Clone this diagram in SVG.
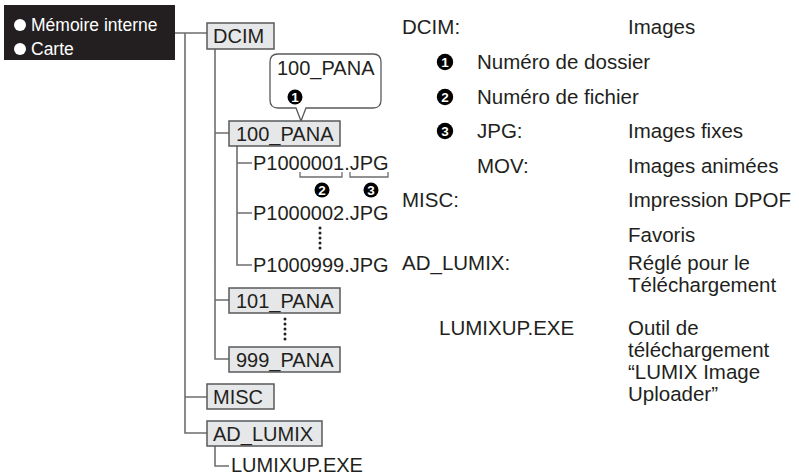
<svg xmlns="http://www.w3.org/2000/svg" width="799" height="475" viewBox="0 0 799 475">
<style>
text{font-family:"Liberation Sans",Arial,sans-serif;fill:#231f20;font-size:20px}
.d{font-size:20.5px}
.box{fill:#e6e7e8;stroke:#58595b;stroke-width:1.5}
.ln{fill:none;stroke:#6d6e71;stroke-width:1.6}
.br{fill:none;stroke:#6d6e71;stroke-width:1.3}
.num{fill:#000}
.nt{fill:#fff;font-size:13.5px;font-weight:bold;text-anchor:middle}
.dot{fill:#231f20}
.leg{fill:#fff;font-size:17.5px}
</style>
<rect width="799" height="475" fill="#fff"/>
<g id="legend">
<rect x="4" y="5" width="171" height="55" fill="#231f20"/>
<circle cx="20" cy="25" r="6" fill="#fff"/>
<text class="leg" x="31" y="31">Mémoire interne</text>
<circle cx="20" cy="49" r="6" fill="#fff"/>
<text class="leg" x="31" y="55">Carte</text>
</g>
<g id="connectors">
<path class="ln" d="M175 33H207M185 33V433H207M185 397H207M215 49V359H229M215 133H229M215 300H229M237 146V265H252M237 163H252M237 213H252M215 446V466H229"/>
<path class="br" d="M300 172V177H342V172M350 172V177H388V172M280 82V85H309V82"/>
<g class="dot">
<circle cx="320" cy="228" r="1.5"/><circle cx="320" cy="233" r="1.5"/><circle cx="320" cy="238" r="1.5"/><circle cx="320" cy="243" r="1.5"/><circle cx="320" cy="248" r="1.5"/>
<circle cx="285" cy="319" r="1.5"/><circle cx="285" cy="324" r="1.5"/><circle cx="285" cy="329" r="1.5"/><circle cx="285" cy="334" r="1.5"/><circle cx="285" cy="339" r="1.5"/>
</g>
</g>
<g id="callout">
<path d="M278 54H373Q381 54 381 62V100Q381 108 373 108H306L301 121L296 108H278Q270 108 270 100V62Q270 54 278 54Z" fill="#fff" stroke="#58595b" stroke-width="1.3"/>
<text x="277" y="75">100_PANA</text>
<circle class="num" cx="295" cy="97" r="7.5"/><text class="nt" x="295" y="101.8">1</text>
</g>
<g id="dcim"><rect class="box" x="207" y="23" width="67" height="26"/><text x="213" y="43">DCIM</text></g>
<g id="p100"><rect class="box" x="229" y="121" width="111" height="25"/><text x="236" y="141">100_PANA</text></g>
<g id="f1"><text x="253" y="170">P1000001.JPG</text>
<circle class="num" cx="322" cy="190" r="7.5"/><text class="nt" x="322" y="194.8">2</text>
<circle class="num" cx="371" cy="190" r="7.5"/><text class="nt" x="371" y="194.8">3</text></g>
<g id="f2"><text x="253" y="220">P1000002.JPG</text></g>
<g id="f999"><text x="253" y="272">P1000999.JPG</text></g>
<g id="p101"><rect class="box" x="229" y="288" width="111" height="25"/><text x="236" y="308">101_PANA</text></g>
<g id="p999"><rect class="box" x="229" y="347" width="111" height="25"/><text x="236" y="367">999_PANA</text></g>
<g id="misc"><rect class="box" x="207" y="384" width="67" height="25"/><text x="213" y="404">MISC</text></g>
<g id="adlumix"><rect class="box" x="207" y="421" width="115" height="25"/><text x="213" y="441">AD_LUMIX</text></g>
<g id="lumixup"><text x="231" y="472">LUMIXUP.EXE</text></g>
<g id="desc">
<text class="d" x="402" y="34">DCIM:</text><text class="d" x="628" y="34">Images</text>
<circle class="num" cx="445" cy="62" r="8.2"/><text class="nt" x="445" y="66.8">1</text>
<text class="d" x="477" y="69">Numéro de dossier</text>
<circle class="num" cx="445" cy="97" r="8.2"/><text class="nt" x="445" y="101.8">2</text>
<text class="d" x="477" y="104">Numéro de fichier</text>
<circle class="num" cx="445" cy="131" r="8.2"/><text class="nt" x="445" y="135.8">3</text>
<text class="d" x="477" y="138">JPG:</text><text class="d" x="628" y="138">Images fixes</text>
<text class="d" x="477" y="173">MOV:</text><text class="d" x="628" y="173">Images animées</text>
<text class="d" x="402" y="207">MISC:</text><text class="d" x="628" y="207">Impression DPOF</text>
<text class="d" x="628" y="242">Favoris</text>
<text class="d" x="402" y="270">AD_LUMIX:</text><text class="d" x="628" y="270">Réglé pour le</text>
<text class="d" x="628" y="292">Téléchargement</text>
<text class="d" x="439" y="335">LUMIXUP.EXE</text>
<text class="d" x="628" y="335">Outil de</text>
<text class="d" x="628" y="357">téléchargement</text>
<text class="d" x="628" y="379">“LUMIX Image</text>
<text class="d" x="628" y="401">Uploader”</text>
</g>
</svg>
